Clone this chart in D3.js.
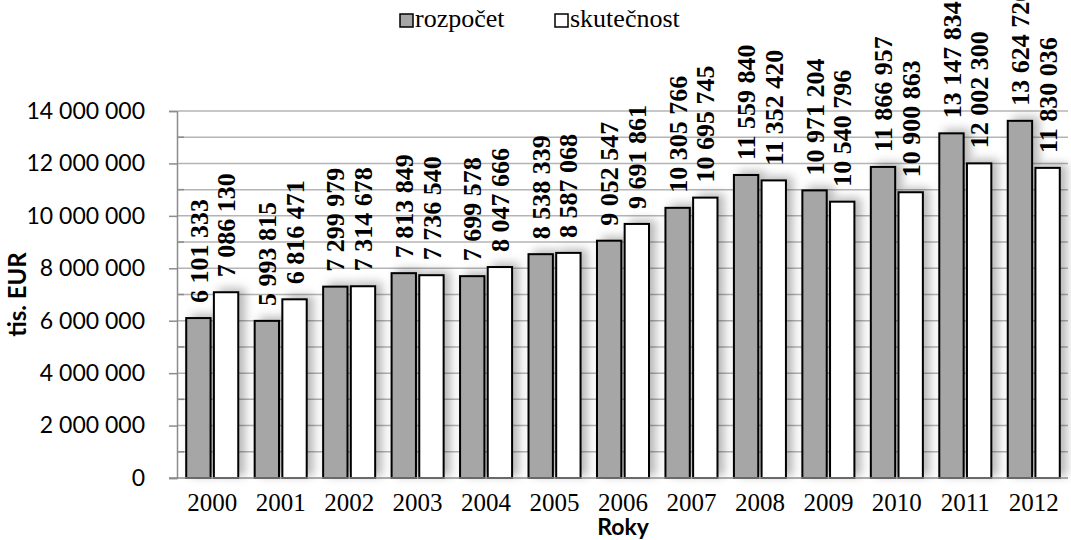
<!DOCTYPE html>
<html>
<head>
<meta charset="utf-8">
<script src="https://cdnjs.cloudflare.com/ajax/libs/d3/7.8.5/d3.min.js"></script>
<style>
  body { margin: 0; background: #fff; }
</style>
</head>
<body>
<div id="container"></div>
<script>
let w = 1071;
let h = 540;

// DATA
let years = ["2000","2001","2002","2003","2004","2005","2006","2007","2008","2009","2010","2011","2012"];
let rozpocet = [6101333, 5993815, 7299979, 7813849, 7699578, 8538339, 9052547, 10305766, 11559840, 10971204, 11866957, 13147834, 13624720];
let skutecnost = [7086130, 6816471, 7314678, 7736540, 8047666, 8587068, 9691861, 10695745, 11352420, 10540796, 10900863, 12002300, 11830036];
let seriesNames = ["rozpočet", "skutečnost"];
let seriesColors = ["#a6a6a6", "#ffffff"];
let yTicks = [0, 2000000, 4000000, 6000000, 8000000, 10000000, 12000000, 14000000];

let plotLeft = 178, plotRight = 1068, plotTop = 111, plotBottom = 478;

let viz = d3.select("#container").append("svg")
    .attr("width", w)
    .attr("height", h)
    .style("background-color", "white");

let defs = viz.append("defs");
let shadow = defs.append("filter")
    .attr("id", "shadow")
    .attr("x", "-20%").attr("y", "-10%")
    .attr("width", "200%").attr("height", "120%");
shadow.append("feDropShadow")
    .attr("dx", 6).attr("dy", -3)
    .attr("stdDeviation", 5)
    .attr("flood-color", "#000")
    .attr("flood-opacity", 0.28);

// SCALES
let yScale = d3.scaleLinear().domain([0, 14000000]).range([plotBottom, plotTop]);
let x0 = d3.scaleBand().domain(years).range([plotLeft, plotRight]).paddingInner(0.24).paddingOuter(0.12);
let x1 = d3.scaleBand().domain(seriesNames).range([0, x0.bandwidth()]).paddingInner(0.12);

let fmt = function(v){ return d3.format(",")(v).replace(/,/g, " "); };

// gridlines every 1 000 000
let gridVals = d3.range(1000000, 14000001, 1000000);
viz.append("g").selectAll("line").data(gridVals).enter()
  .append("line")
    .attr("x1", plotLeft).attr("x2", plotRight)
    .attr("y1", d => yScale(d)).attr("y2", d => yScale(d))
    .attr("stroke", "#b4b4b4")
    .attr("stroke-width", 1.5);

// Y AXIS
let yAxis = d3.axisLeft(yScale).tickValues(yTicks).tickSize(8).tickPadding(24).tickFormat(fmt);
let yG = viz.append("g").attr("transform", "translate(" + (plotLeft - 1) + ",0)").call(yAxis);
yG.select(".domain").attr("stroke", "#8c8c8c").attr("stroke-width", 1.5);
yG.selectAll(".tick line").attr("stroke", "#8c8c8c").attr("stroke-width", 1.5);
yG.selectAll("text")
  .style("font-family", "Lato, 'Noto Sans', sans-serif")
  .style("font-size", "23px")
  .attr("fill", "#000");

// minor ticks inside
viz.append("g").selectAll("line").data(gridVals.filter(d => d % 2000000 != 0)).enter()
  .append("line")
    .attr("x1", plotLeft - 1).attr("x2", plotLeft + 6)
    .attr("y1", d => yScale(d)).attr("y2", d => yScale(d))
    .attr("stroke", "#8c8c8c").attr("stroke-width", 1.5);

// BARS
let rows = years.map(function(y, i){
  return { year: y, values: [
    { name: seriesNames[0], value: rozpocet[i], color: seriesColors[0] },
    { name: seriesNames[1], value: skutecnost[i], color: seriesColors[1] }
  ]};
});

let groups = viz.append("g").selectAll(".group").data(rows).enter()
  .append("g")
    .attr("class", "group")
    .attr("transform", d => "translate(" + x0(d.year) + ",0)");

groups.selectAll("rect").data(d => d.values).enter()
  .append("rect")
    .attr("x", d => x1(d.name))
    .attr("y", d => yScale(d.value))
    .attr("width", x1.bandwidth())
    .attr("height", d => yScale(0) - yScale(d.value))
    .attr("fill", d => d.color)
    .attr("stroke", "#000")
    .attr("stroke-width", 2)
    .attr("filter", "url(#shadow)");

// x axis line
viz.append("line")
  .attr("x1", plotLeft - 9).attr("x2", plotRight)
  .attr("y1", plotBottom).attr("y2", plotBottom)
  .attr("stroke", "#8c8c8c").attr("stroke-width", 1.5);

// VALUE LABELS
groups.selectAll(".lab").data(d => d.values).enter()
  .append("text")
    .attr("class", "lab")
    .attr("transform", d => "translate(" + (x1(d.name) + x1.bandwidth() / 2) + "," + (yScale(d.value) - 15) + ") rotate(-90)")
    .attr("dy", "0.35em")
    .attr("text-anchor", "start")
    .style("font-family", "'Liberation Serif', 'Times New Roman', serif")
    .style("font-weight", "bold")
    .style("font-size", "26px")
    .text(d => fmt(d.value));

// X LABELS
viz.append("g").selectAll("text").data(years).enter()
  .append("text")
    .attr("x", d => x0(d) + x0.bandwidth() / 2)
    .attr("y", 511)
    .attr("text-anchor", "middle")
    .style("font-family", "'Liberation Serif', 'Times New Roman', serif")
    .style("font-size", "25px")
    .text(d => d);

// AXIS TITLES
viz.append("text")
  .attr("x", (plotLeft + plotRight) / 2)
  .attr("y", 535)
  .attr("text-anchor", "middle")
  .style("font-family", "Lato, 'Noto Sans', sans-serif")
  .style("font-weight", "bold")
  .style("font-size", "23px")
  .text("Roky");

viz.append("text")
  .attr("transform", "translate(26," + ((plotTop + plotBottom) / 2) + ") rotate(-90)")
  .attr("text-anchor", "middle")
  .style("font-family", "Lato, 'Noto Sans', sans-serif")
  .style("font-weight", "bold")
  .style("font-size", "24px")
  .text("tis. EUR");

// LEGEND
let legendX = [400, 555];
let legend = viz.append("g").selectAll("g").data(seriesNames).enter()
  .append("g")
    .attr("transform", (d, i) => "translate(" + legendX[i] + ",14)");
legend.append("rect")
  .attr("width", 13).attr("height", 13)
  .attr("fill", (d, i) => seriesColors[i])
  .attr("stroke", "#000").attr("stroke-width", 1.5);
legend.append("text")
  .attr("x", 15).attr("y", 13)
  .style("font-family", "'Liberation Serif', 'Times New Roman', serif")
  .style("font-size", "26px")
  .text(d => d);
</script>
</body>
</html>
